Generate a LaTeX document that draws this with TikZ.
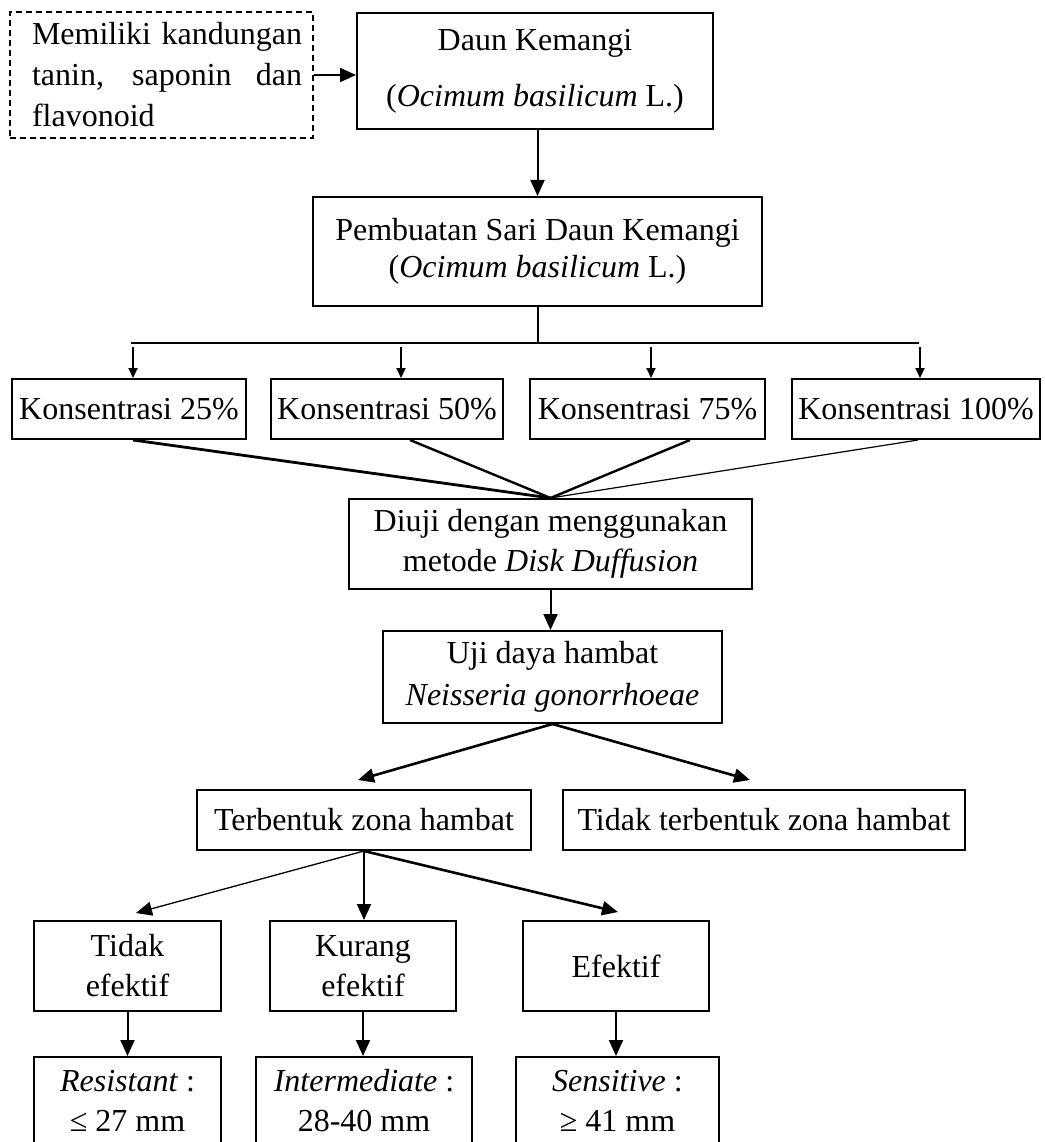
\documentclass[tikz,border=0pt]{standalone}
\usepackage{fontspec}
\setmainfont{Liberation Serif}
\usetikzlibrary{arrows.meta,calc}
\begin{document}
\begin{tikzpicture}[x=1pt,y=-1pt,
  box/.style={draw, line width=2pt, inner sep=0pt, align=center,
    font=\fontsize{32}{40}\selectfont},
  conn/.style={line width=2pt},
  arr/.style={line width=2pt, -{Triangle[length=16pt,width=14pt]}},
  sarr/.style={line width=2pt, -{Triangle[length=10pt,width=9pt]}}]

\useasboundingbox (0,0) rectangle (1044,1142);
\clip (0,0) rectangle (1044,1142);

% top row
\node[box, dash pattern=on 6pt off 4pt, minimum width=303pt, minimum height=126pt,
      font=\fontsize{32}{41}\selectfont] (ktn) at (161.5,75)
  {\hspace*{11pt}\makebox[270pt][s]{Memiliki kandungan}\\\hspace*{11pt}\makebox[270pt][s]{tanin, saponin dan}\\\hspace*{11pt}\makebox[270pt][l]{flavonoid}};
\node[box, minimum width=356pt, minimum height=116pt, font=\fontsize{32}{56}\selectfont] (daun) at (535,71)
  {Daun Kemangi\\(\textit{Ocimum basilicum} L.)};

% extraction
\node[box, minimum width=449pt, minimum height=109pt, font=\fontsize{32}{37}\selectfont] (pemb) at (537.5,251.5)
  {Pembuatan Sari Daun Kemangi\\(\textit{Ocimum basilicum} L.)};

% concentrations
\node[box, minimum width=234pt, minimum height=60pt] (k1) at (129,409) {Konsentrasi 25\%};
\node[box, minimum width=232pt, minimum height=60pt] (k2) at (387,409) {Konsentrasi 50\%};
\node[box, minimum width=235pt, minimum height=60pt] (k3) at (647.5,409) {Konsentrasi 75\%};
\node[box, minimum width=248pt, minimum height=60pt] (k4) at (916,409) {Konsentrasi 100\%};

% test
\node[box, minimum width=403pt, minimum height=90pt] (diuji) at (550.5,544)
  {Diuji dengan menggunakan\\metode \textit{Disk Duffusion}};
\node[box, minimum width=339pt, minimum height=92pt, font=\fontsize{32}{42}\selectfont] (uji) at (552.5,677)
  {Uji daya hambat\\\textit{Neisseria gonorrhoeae}};

% zone
\node[box, minimum width=334pt, minimum height=60pt] (terb) at (364,820) {Terbentuk zona hambat};
\node[box, minimum width=402pt, minimum height=60pt] (tdk) at (764,820) {Tidak terbentuk zona hambat};

% effectiveness
\node[box, minimum width=187pt, minimum height=90pt] (te) at (127.5,966) {Tidak\\efektif};
\node[box, minimum width=186pt, minimum height=90pt] (ke) at (363,966) {Kurang\\efektif};
\node[box, minimum width=186pt, minimum height=90pt] (ef) at (616,966) {Efektif};

% categories
\node[box, minimum width=187pt, minimum height=88pt, font=\fontsize{32}{40}\selectfont] (rs) at (127.5,1101)
  {\textit{Resistant} :\\≤ 27 mm};
\node[box, minimum width=216pt, minimum height=88pt, font=\fontsize{32}{40}\selectfont] (im) at (364,1101)
  {\textit{Intermediate} :\\28-40 mm};
\node[box, minimum width=203pt, minimum height=88pt, font=\fontsize{32}{40}\selectfont] (sn) at (617.5,1101)
  {\textit{Sensitive} :\\≥ 41 mm};

% coordinates
\coordinate (hl) at (131,343);
\coordinate (hr) at (919,343);
\coordinate (s1) at (133,347);
\coordinate (s2) at (401,347);
\coordinate (s3) at (651,347);
\coordinate (s4) at (920,347);
\coordinate (u1) at (358,780);
\coordinate (u2) at (750,780);
\coordinate (e1) at (136,913);
\coordinate (e3) at (618,912);

% connectors
\draw[arr] (ktn.east) -- (ktn.east -| daun.west);
\draw[arr] (daun.south -| pemb.north) -- (pemb.north);
\draw[conn] (pemb.south) -- (pemb.south |- hl);
\draw[conn] (hl) -- (hr);
\draw[sarr] (s1) -- (s1 |- k1.north);
\draw[sarr] (s2) -- (s2 |- k2.north);
\draw[sarr] (s3) -- (s3 |- k3.north);
\draw[sarr] (s4) -- (s4 |- k4.north);

\draw[line width=2.8pt] ([xshift=4pt]k1.south) -- (diuji.north);
\draw[line width=2.4pt] ([xshift=23pt]k2.south) -- (diuji.north);
\draw[line width=2.4pt] ([xshift=42.5pt]k3.south) -- (diuji.north);
\draw[line width=1.2pt] ([xshift=2pt]k4.south) -- (diuji.north);

\draw[arr] (diuji.south) -- (diuji.south |- uji.north);

\draw[arr, line width=2.6pt] (uji.south) -- (u1);
\draw[arr, line width=2.6pt] (uji.south) -- (u2);

\draw[arr, line width=1.3pt] (terb.south) -- (e1);
\draw[arr] (terb.south) -- (terb.south |- ke.north);
\draw[arr, line width=2.6pt] (terb.south) -- (e3);

\draw[arr] (te.south) -- (te.south |- rs.north);
\draw[arr] (ke.south) -- (ke.south |- im.north);
\draw[arr] (ef.south) -- (ef.south |- sn.north);
\end{tikzpicture}
\end{document}
